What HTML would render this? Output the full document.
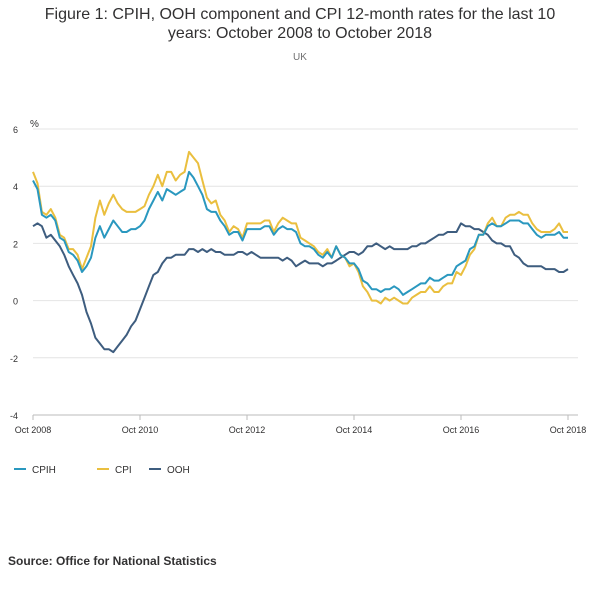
<!DOCTYPE html>
<html><head><meta charset="utf-8"><style>
body{margin:0;background:#fff;width:600px;height:585px;overflow:hidden;font-family:"Liberation Sans",sans-serif}
</style></head><body>
<svg width="600" height="585" font-family="Liberation Sans, sans-serif">
<text x="300" y="19" text-anchor="middle" font-size="16" fill="#323132">Figure 1: CPIH, OOH component and CPI 12-month rates for the last 10</text>
<text x="300" y="38" text-anchor="middle" font-size="16" fill="#323132">years: October 2008 to October 2018</text>
<text x="300" y="60" text-anchor="middle" font-size="10" fill="#707071">UK</text>
<text x="30" y="127" font-size="10" fill="#323132">%</text>
<g id="grid"></g><g id="lines"></g>
<g>
<line x1="14" y1="469" x2="26" y2="469" stroke="#2a98bf" stroke-width="2"/><text x="32" y="473" font-size="10" fill="#323132">CPIH</text>
<line x1="97" y1="469" x2="109" y2="469" stroke="#eabf3f" stroke-width="2"/><text x="115" y="473" font-size="10" fill="#323132">CPI</text>
<line x1="149" y1="469" x2="161" y2="469" stroke="#3e5d7f" stroke-width="2"/><text x="167" y="473" font-size="10" fill="#323132">OOH</text>
</g>
<text x="8" y="565" font-size="12" font-weight="bold" fill="#323132">Source: Office for National Statistics</text>
</svg>
<script>
const yTicks=[6,4,2,0,-2,-4];
const xTickLabels=["Oct 2008","Oct 2010","Oct 2012","Oct 2014","Oct 2016","Oct 2018"];
const cpi=[4.5,4.1,3.1,
3.0,3.2,2.9,2.3,2.2,1.8,1.8,1.6,1.1,1.5,1.9,2.9,
3.5,3.0,3.4,3.7,3.4,3.2,3.1,3.1,3.1,3.2,3.3,3.7,
4.0,4.4,4.0,4.5,4.5,4.2,4.4,4.5,5.2,5.0,4.8,4.2,
3.6,3.4,3.5,3.0,2.8,2.4,2.6,2.5,2.2,2.7,2.7,2.7,
2.7,2.8,2.8,2.4,2.7,2.9,2.8,2.7,2.7,2.2,2.1,2.0,
1.9,1.7,1.6,1.8,1.5,1.9,1.6,1.5,1.2,1.3,1.0,0.5,
0.3,0.0,0.0,-0.1,0.1,0.0,0.1,0.0,-0.1,-0.1,0.1,0.2,
0.3,0.3,0.5,0.3,0.3,0.5,0.6,0.6,1.0,0.9,1.2,1.6,
1.8,2.3,2.3,2.7,2.9,2.6,2.6,2.9,3.0,3.0,3.1,3.0,
3.0,2.7,2.5,2.4,2.4,2.4,2.5,2.7,2.4,2.4];
const cpih=[4.2,3.9,3.0,
2.9,3.0,2.8,2.2,2.1,1.7,1.6,1.4,1.0,1.2,1.5,2.2,
2.6,2.2,2.5,2.8,2.6,2.4,2.4,2.5,2.5,2.6,2.8,3.2,
3.5,3.8,3.5,3.9,3.8,3.7,3.8,3.9,4.5,4.3,4.0,3.7,
3.2,3.1,3.1,2.8,2.6,2.3,2.4,2.4,2.1,2.5,2.5,2.5,
2.5,2.6,2.6,2.3,2.5,2.6,2.5,2.5,2.4,2.0,1.9,1.9,
1.8,1.6,1.5,1.7,1.5,1.9,1.6,1.5,1.3,1.3,1.1,0.7,
0.6,0.4,0.4,0.3,0.4,0.4,0.5,0.4,0.2,0.3,0.4,0.5,
0.6,0.6,0.8,0.7,0.7,0.8,0.9,0.9,1.2,1.3,1.4,1.8,
1.9,2.3,2.3,2.6,2.7,2.6,2.6,2.7,2.8,2.8,2.8,2.7,
2.7,2.5,2.3,2.2,2.3,2.3,2.3,2.4,2.2,2.2];
const ooh=[2.6,2.7,2.6,
2.2,2.3,2.1,1.9,1.6,1.2,0.9,0.6,0.2,-0.4,-0.8,-1.3,
-1.5,-1.7,-1.7,-1.8,-1.6,-1.4,-1.2,-0.9,-0.7,-0.3,0.1,0.5,
0.9,1.0,1.3,1.5,1.5,1.6,1.6,1.6,1.8,1.8,1.7,1.8,
1.7,1.8,1.7,1.7,1.6,1.6,1.6,1.7,1.7,1.6,1.7,1.6,
1.5,1.5,1.5,1.5,1.5,1.4,1.5,1.4,1.2,1.3,1.4,1.3,
1.3,1.3,1.2,1.3,1.3,1.4,1.5,1.6,1.7,1.7,1.6,1.7,
1.9,1.9,2.0,1.9,1.8,1.9,1.8,1.8,1.8,1.8,1.9,1.9,
2.0,2.0,2.1,2.2,2.3,2.3,2.4,2.4,2.4,2.7,2.6,2.6,
2.5,2.5,2.4,2.3,2.1,2.0,2.0,1.9,1.9,1.6,1.5,1.3,
1.2,1.2,1.2,1.2,1.1,1.1,1.1,1.0,1.0,1.1];
const NS="http://www.w3.org/2000/svg";
const X0=33,X1=568,Y6=129,Y_4=415;
const n=cpi.length;
const xs=i=>X0+(X1-X0)*i/(n-1);
const ys=v=>Y6+(6-v)*(Y_4-Y6)/10;
function mk(t,a,p){const e=document.createElementNS(NS,t);for(const k in a)e.setAttribute(k,a[k]);p.appendChild(e);return e;}
const g=document.getElementById('grid');
yTicks.forEach(v=>{
 const l=mk('line',{x1:X0,x2:X1+10,y1:ys(v),y2:ys(v),stroke:v===-4?'#bbbbbb':'#e4e4e4','stroke-width':1},g);
 
 
 const t=mk('text',{x:18,y:ys(v)+4,'font-size':9,fill:'#323132','text-anchor':'end'},g);
 t.textContent=v;
 
 
});
xTickLabels.forEach((s,i)=>{
 const x=xs(i*24);
 const tk=mk('line',{x1:x,x2:x,y1:Y_4,y2:Y_4+5,stroke:'#bbbbbb'},g);
 
 
 const t=mk('text',{x:x,y:433,'font-size':9,fill:'#323132','text-anchor':'middle'},g);
 t.textContent=s;
 
 
});
const L=document.getElementById('lines');
[[ooh,'#3e5d7f','ooh-line'],[cpi,'#eabf3f','cpi-line'],[cpih,'#2a98bf','cpih-line']].forEach(([d,c,nm])=>{
 const p=mk('polyline',{points:d.map((v,i)=>xs(i).toFixed(1)+','+ys(v).toFixed(1)).join(' '),fill:'none',stroke:c,'stroke-width':2,'stroke-linejoin':'round'},L);
 
 
});
</script>
</body></html>
